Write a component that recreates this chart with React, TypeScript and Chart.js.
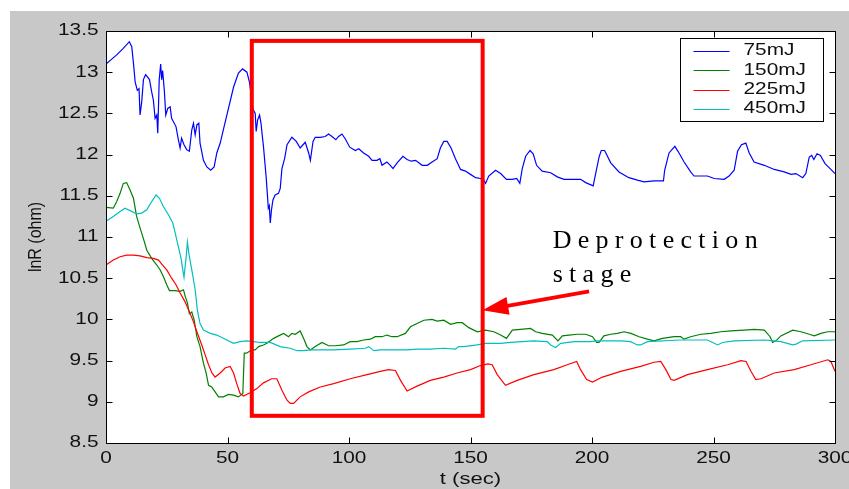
import React, { useEffect, useRef } from 'react';
import { Chart, registerables } from 'chart.js';
Chart.register(...registerables);

const seriesNames = ['75mJ', '150mJ', '225mJ', '450mJ'];
const seriesColors = ['rgb(0,0,255)', 'rgb(0,128,0)', 'rgb(255,0,0)', 'rgb(0,191,191)'];
const xTicks = [0, 50, 100, 150, 200, 250, 300];
const xTickLabels = ['0', '50', '100', '150', '200', '250', '300'];
const yTicks = [8.5, 9, 9.5, 10, 10.5, 11, 11.5, 12, 12.5, 13, 13.5];
const yTickLabels = ['8.5', '9', '9.5', '10', '10.5', '11', '11.5', '12', '12.5', '13', '13.5'];
const xTitle = 't (sec)';
const yTitle = 'lnR (ohm)';
const noteLine1 = 'Deprotection';
const noteLine2 = 'stage';
// annotation box in data units: [t0, t1, v0, v1]
const stageBox = [60, 155, 8.83, 13.38];
// arrow tail / tip in data units
const arrowTail = [198.8, 10.34];
const arrowTip = [154.9, 10.11];
const noteAnchor = [183.8, 10.87, 10.45];

const s75: [number, number][] = [[0,13.10],[2,13.15],[4.4,13.21],[7.1,13.29],[9.6,13.37],[10.6,13.31],[11.3,13.11],[12,12.88],[12.9,12.78],[13.6,12.80],[14,12.48],[14.7,12.64],[15.4,12.91],[16.3,12.97],[17.9,12.91],[18.8,12.76],[19.5,12.66],[20.2,12.44],[20.9,12.48],[21.3,12.26],[21.9,12.91],[22.5,13.10],[22.9,12.91],[23.3,13.02],[24,12.78],[24.6,12.48],[25.4,12.56],[26.4,12.58],[27,12.44],[28.8,12.34],[29.8,12.18],[30.5,12.08],[31.1,12.20],[32.1,12.12],[33.2,12.06],[34.3,12.04],[35.3,12.30],[36,12.38],[36.7,12.24],[37.4,12.36],[38.2,12.38],[38.7,12.14],[40.1,11.93],[41.5,11.85],[43.1,11.81],[44.5,11.85],[45.6,12.02],[47,12.14],[48.6,12.34],[50.4,12.56],[52.5,12.82],[54.5,12.99],[56.2,13.04],[58,13.0],[59.1,12.87],[60.5,12.55],[61.4,12.50],[61.8,12.28],[62.4,12.42],[63.2,12.48],[63.8,12.38],[64.2,12.26],[64.8,12.10],[65.9,11.73],[66.8,11.35],[67.2,11.38],[67.6,11.17],[68.1,11.33],[68.7,11.45],[69.6,11.51],[71,11.53],[71.7,11.59],[72.4,11.83],[73.5,11.95],[74.5,12.12],[76.5,12.21],[78.3,12.16],[79.9,12.08],[82,12.15],[83.4,12.02],[84.1,11.93],[85.2,12.16],[86.1,12.21],[88.2,12.21],[90.2,12.22],[91.6,12.25],[93,12.22],[94.6,12.18],[95.7,12.22],[97.1,12.25],[98.5,12.19],[100.3,12.09],[102.6,12.05],[104,12.07],[106,12.02],[108.1,11.98],[109.5,11.93],[111.5,11.93],[112.7,11.95],[113.6,11.87],[115.6,11.91],[117,11.87],[118.1,11.83],[119.8,11.90],[122.2,11.98],[123.9,11.94],[125.6,11.92],[127.4,11.93],[130.1,11.87],[132.2,11.87],[134.2,11.91],[136.3,11.95],[137.6,12.08],[139,12.16],[140.4,12.16],[142,12.08],[143.8,11.95],[145.9,11.82],[147.9,11.80],[150,11.76],[152.1,11.72],[154.1,11.71],[155.5,11.69],[156.2,11.65],[157.5,11.74],[160.3,11.81],[162.4,11.77],[164.8,11.70],[167.2,11.70],[169,11.71],[170.3,11.65],[171.3,11.83],[172.7,11.98],[174.5,12.05],[175.8,12.01],[177.2,11.87],[179.5,11.80],[183,11.78],[185.7,11.73],[188.5,11.70],[191.2,11.70],[195.3,11.70],[197.4,11.66],[200.5,11.62],[201.5,11.77],[202.9,11.97],[203.8,12.05],[205.2,12.05],[207.7,11.90],[211.1,11.79],[215.2,11.72],[218.7,11.69],[221.4,11.67],[225.5,11.68],[229.4,11.68],[229.9,11.81],[231.7,12.02],[234.1,12.10],[235.4,12.04],[237.9,11.91],[240.6,11.79],[242,11.74],[247.5,11.74],[250.3,11.71],[254.4,11.70],[256.4,11.74],[258.5,11.81],[259.9,12.04],[261.5,12.12],[263.3,12.14],[264.7,12.02],[266.7,11.91],[270.9,11.87],[275,11.82],[279.1,11.79],[281.9,11.76],[283.9,11.77],[286.7,11.72],[288,11.77],[289.4,11.97],[290.4,11.99],[291.3,11.94],[292.6,12.01],[294,11.99],[295.9,11.89],[298.3,11.82],[300,11.77]];

const s150: [number, number][] = [[0,11.36],[3,11.35],[4.4,11.43],[5.8,11.53],[7.1,11.65],[8.5,11.66],[9.9,11.57],[11.3,11.47],[12.6,11.25],[14,11.11],[15.4,10.98],[16.8,10.84],[18.8,10.74],[20.9,10.66],[22.3,10.60],[23.6,10.52],[25,10.42],[26.1,10.35],[28.4,10.35],[30.5,10.34],[31.9,10.36],[32.6,10.28],[33.5,10.20],[34.3,10.07],[35.3,10.09],[36.3,9.99],[37.4,9.79],[38.7,9.67],[40.1,9.47],[41.2,9.35],[42.2,9.20],[43.5,9.18],[44.9,9.12],[46.3,9.06],[48.3,9.06],[50.4,9.09],[52.5,9.08],[54.5,9.06],[56.3,9.10],[56.9,9.59],[57.8,9.59],[60,9.63],[61.4,9.63],[62.8,9.67],[64.8,9.69],[66.2,9.71],[69,9.77],[71,9.80],[73.1,9.83],[75.1,9.79],[76.5,9.83],[77.9,9.82],[79.9,9.86],[81.3,9.77],[82.7,9.67],[84.1,9.63],[86.1,9.67],[88.9,9.72],[91.6,9.68],[94.4,9.68],[97.8,9.69],[100.5,9.73],[103.3,9.73],[106,9.75],[108.8,9.76],[110.8,9.79],[113.6,9.79],[115.6,9.81],[117.7,9.79],[119.8,9.79],[123.2,9.83],[125.3,9.91],[128,9.95],[130.8,9.99],[134.2,10.0],[136.3,9.98],[139,9.99],[141.8,9.94],[144.5,9.96],[146.6,9.96],[149.3,9.90],[152.8,9.85],[156.2,9.87],[159.6,9.85],[162.4,9.81],[164.8,9.77],[167.2,9.87],[170.6,9.88],[174.7,9.89],[176.8,9.85],[179.5,9.83],[183.7,9.81],[186,9.74],[187.8,9.80],[190.5,9.81],[194,9.82],[197.4,9.82],[200.2,9.79],[201.9,9.72],[202.9,9.72],[204.9,9.80],[207.7,9.82],[210.4,9.83],[213.2,9.85],[216,9.83],[219.4,9.79],[222.8,9.76],[225.5,9.74],[229,9.77],[233.8,9.79],[236.5,9.79],[237.9,9.76],[240.6,9.79],[244.8,9.82],[248.9,9.83],[253,9.85],[257.1,9.86],[262.6,9.87],[266.7,9.88],[270.9,9.87],[273.3,9.79],[274.3,9.72],[275.7,9.74],[277.7,9.80],[282.6,9.87],[286,9.85],[289.4,9.82],[291.5,9.80],[294.2,9.83],[297,9.85],[300,9.85]];

const s225: [number, number][] = [[0,10.66],[3,10.72],[5.8,10.76],[8.5,10.78],[11.3,10.78],[14,10.77],[16.8,10.75],[19.5,10.74],[21.6,10.72],[23.3,10.66],[25,10.60],[27,10.50],[28.8,10.42],[30.5,10.32],[32.6,10.21],[34.6,10.07],[36,9.97],[37.4,9.85],[39.4,9.69],[40.8,9.57],[42.2,9.45],[43.6,9.35],[44.9,9.30],[47,9.35],[49,9.41],[51.1,9.43],[52.5,9.35],[53.8,9.22],[55.2,9.10],[56.6,9.07],[59.3,9.11],[62.1,9.16],[64.8,9.23],[68.2,9.28],[70.3,9.28],[72.4,9.14],[74.5,9.02],[75.8,8.98],[77.2,8.98],[79.9,9.06],[83.4,9.12],[88.2,9.18],[93.7,9.22],[100.5,9.28],[107.4,9.33],[112.9,9.37],[116.3,9.39],[119.1,9.38],[121.2,9.26],[123.9,9.13],[128,9.19],[133.5,9.26],[139,9.30],[144.5,9.35],[150,9.39],[154.1,9.44],[157.1,9.46],[158.9,9.45],[161,9.33],[164.4,9.20],[169.2,9.26],[176.1,9.33],[184.3,9.39],[189.8,9.45],[193.7,9.49],[195.3,9.39],[197.8,9.27],[200.2,9.24],[204.3,9.30],[211.8,9.37],[220,9.43],[225.5,9.48],[228.3,9.49],[230.4,9.39],[232.5,9.27],[233.8,9.26],[239.3,9.33],[247.5,9.39],[255.8,9.45],[261.3,9.50],[263.4,9.49],[265.4,9.37],[267.4,9.27],[269.5,9.28],[275,9.35],[283.2,9.39],[290.1,9.45],[297,9.51],[298.3,9.49],[300,9.37]];

const s450: [number, number][] = [[0,11.19],[3,11.25],[5.8,11.31],[7.8,11.35],[9.9,11.32],[12.6,11.28],[14.7,11.29],[16.8,11.33],[18.8,11.43],[20.6,11.51],[22,11.47],[23.6,11.37],[25.7,11.27],[27.5,11.17],[28.4,11.06],[29.8,10.88],[30.9,10.74],[31.6,10.60],[32.1,10.51],[33,10.76],[33.5,10.94],[34.1,10.80],[35.3,10.60],[36.7,10.36],[37.6,10.11],[38.7,9.95],[40.1,9.87],[42.9,9.83],[45.6,9.81],[49.7,9.75],[52.5,9.71],[55.2,9.73],[58,9.74],[60.7,9.73],[63.4,9.72],[67.6,9.72],[71.7,9.67],[75.8,9.65],[78.6,9.62],[81.3,9.62],[84.1,9.63],[86.8,9.63],[93.7,9.63],[100.5,9.64],[106.7,9.65],[108.1,9.67],[110.2,9.62],[112.9,9.63],[117,9.63],[123.9,9.63],[128,9.64],[133.5,9.64],[139,9.65],[143.8,9.64],[145.2,9.67],[147.2,9.67],[152.8,9.69],[156.2,9.71],[162.4,9.71],[166.5,9.72],[176.1,9.74],[181.6,9.73],[183,9.69],[185,9.66],[187.1,9.71],[192.6,9.73],[199.4,9.73],[202.2,9.74],[211.8,9.74],[215.9,9.73],[218.7,9.69],[220,9.69],[222.8,9.73],[236.5,9.75],[247.5,9.75],[250.3,9.71],[251.7,9.69],[253.7,9.72],[258.5,9.74],[270.9,9.75],[275,9.74],[277.7,9.73],[282.6,9.69],[284,9.70],[286.7,9.74],[300,9.75]];

const allSeries = [s75, s150, s225, s450];

export default function App() {
  const ref = useRef<HTMLCanvasElement>(null);

  useEffect(() => {
    const canvas = ref.current;
    if (!canvas) return;
    const SX = 1.3;
    const sansFont = '"Liberation Sans", Arial, sans-serif';
    const serifFont = '"Liberation Serif", "Times New Roman", serif';

    const drawText = (
      ctx: CanvasRenderingContext2D, s: string, x: number, y: number,
      align: CanvasTextAlign, font: string, color: string, sx = SX, ls = 0,
      baseline: CanvasTextBaseline = 'middle'
    ) => {
      ctx.save();
      ctx.translate(x, y);
      ctx.scale(sx, 1);
      ctx.font = font;
      ctx.fillStyle = color;
      ctx.textAlign = align;
      ctx.textBaseline = baseline;
      (ctx as any).letterSpacing = ls + 'px';
      ctx.fillText(s, 0, 0);
      ctx.restore();
    };

    const plugin = {
      id: 'matlabLook',
      beforeDraw(chart: any) {
        const ctx: CanvasRenderingContext2D = chart.ctx;
        const ca = chart.chartArea;
        ctx.save();
        ctx.fillStyle = '#ffffff';
        ctx.fillRect(0, 0, chart.width, chart.height);
        ctx.fillStyle = '#c8c8c8';
        ctx.fillRect(10, 11, chart.width - 10, chart.height - 11);
        ctx.fillStyle = '#ffffff';
        ctx.fillRect(ca.left, ca.top, ca.right - ca.left, ca.bottom - ca.top);
        ctx.restore();
      },
      afterDatasetsDraw(chart: any) {
        const ctx: CanvasRenderingContext2D = chart.ctx;
        const ca = chart.chartArea;
        const xs = chart.scales.x;
        const ys = chart.scales.y;
        ctx.save();

        // annotation rectangle
        const rx0 = xs.getPixelForValue(stageBox[0]);
        const rx1 = xs.getPixelForValue(stageBox[1]);
        const ry0 = ys.getPixelForValue(stageBox[3]);
        const ry1 = ys.getPixelForValue(stageBox[2]);
        ctx.strokeStyle = '#ff0000';
        ctx.lineWidth = 4;
        ctx.strokeRect(rx0, ry0, rx1 - rx0, ry1 - ry0);

        // arrow
        const tx = xs.getPixelForValue(arrowTail[0]);
        const ty = ys.getPixelForValue(arrowTail[1]);
        const hx = xs.getPixelForValue(arrowTip[0]);
        const hy = ys.getPixelForValue(arrowTip[1]);
        const dx = hx - tx, dy = hy - ty;
        const len = Math.hypot(dx, dy);
        const ux = dx / len, uy = dy / len;
        const headLen = 26, headHalf = 9;
        const bx = hx - ux * headLen, by = hy - uy * headLen;
        ctx.beginPath();
        ctx.moveTo(tx, ty);
        ctx.lineTo(bx + ux * 2, by + uy * 2);
        ctx.lineWidth = 4;
        ctx.stroke();
        ctx.beginPath();
        ctx.moveTo(hx, hy);
        ctx.lineTo(bx - uy * headHalf, by + ux * headHalf);
        ctx.lineTo(bx + uy * headHalf, by - ux * headHalf);
        ctx.closePath();
        ctx.fillStyle = '#ff0000';
        ctx.fill();

        // note text
        const nx = xs.getPixelForValue(noteAnchor[0]);
        drawText(ctx, noteLine1, nx, ys.getPixelForValue(noteAnchor[1]), 'left', `26px ${serifFont}`, '#000', 1, 6.3, 'alphabetic');
        drawText(ctx, noteLine2, nx, ys.getPixelForValue(noteAnchor[2]), 'left', `26px ${serifFont}`, '#000', 1, 6.3, 'alphabetic');

        // axes box
        ctx.strokeStyle = '#000';
        ctx.lineWidth = 1;
        const L = Math.round(ca.left) + 0.5, R = Math.round(ca.right) + 0.5;
        const T = Math.round(ca.top) + 0.5, B = Math.round(ca.bottom) + 0.5;
        ctx.beginPath();
        ctx.moveTo(L, T); ctx.lineTo(R, T); ctx.lineTo(R, B); ctx.lineTo(L, B); ctx.closePath();
        ctx.stroke();

        // ticks (inward) and labels
        const tl = 6;
        ctx.beginPath();
        xTicks.forEach((v) => {
          const px = Math.round(xs.getPixelForValue(v)) + 0.5;
          ctx.moveTo(px, B); ctx.lineTo(px, B - tl);
          ctx.moveTo(px, T); ctx.lineTo(px, T + tl);
        });
        yTicks.forEach((v) => {
          const py = Math.round(ys.getPixelForValue(v)) + 0.5;
          ctx.moveTo(L, py); ctx.lineTo(L + tl, py);
          ctx.moveTo(R, py); ctx.lineTo(R - tl, py);
        });
        ctx.stroke();

        const tickFont = `16px ${sansFont}`;
        xTicks.forEach((v, i) => {
          drawText(ctx, xTickLabels[i], xs.getPixelForValue(v), B + 15, 'center', tickFont, '#111');
        });
        yTicks.forEach((v, i) => {
          drawText(ctx, yTickLabels[i], L - 8, ys.getPixelForValue(v), 'right', tickFont, '#111');
        });

        // axis titles
        drawText(ctx, xTitle, (ca.left + ca.right) / 2, B + 36, 'center', `16px ${sansFont}`, '#111', 1.38);
        ctx.save();
        ctx.translate(36, (ca.top + ca.bottom) / 2);
        ctx.scale(1.2, 1);
        ctx.rotate(-Math.PI / 2);
        ctx.font = `16px ${sansFont}`;
        ctx.fillStyle = '#111';
        ctx.textAlign = 'center';
        ctx.textBaseline = 'middle';
        ctx.fillText(yTitle, 0, 0);
        ctx.restore();

        // legend
        const lx0 = Math.round(ca.right) - 155 + 0.5;
        const lx1 = Math.round(ca.right) - 12 + 0.5;
        const ly0 = Math.round(ca.top) + 7 + 0.5;
        const ly1 = ly0 + 83;
        ctx.fillStyle = '#fff';
        ctx.fillRect(lx0, ly0, lx1 - lx0, ly1 - ly0);
        ctx.strokeStyle = '#000';
        ctx.lineWidth = 1;
        ctx.strokeRect(lx0, ly0, lx1 - lx0, ly1 - ly0);
        seriesNames.forEach((name, i) => {
          const yy = ly0 + 12.5 + i * 19.3;
          ctx.beginPath();
          ctx.strokeStyle = seriesColors[i];
          ctx.moveTo(lx0 + 13, Math.round(yy) + 0.5);
          ctx.lineTo(lx0 + 49, Math.round(yy) + 0.5);
          ctx.stroke();
          drawText(ctx, name, lx0 + 63, yy, 'left', tickFont, '#111');
        });

        ctx.restore();
      },
    };

    const chart = new Chart(canvas, {
      type: 'line',
      data: {
        datasets: allSeries.map((s, i) => ({
          label: seriesNames[i],
          data: s.map(([x, y]) => ({ x, y })),
          borderColor: seriesColors[i],
          backgroundColor: seriesColors[i],
          borderWidth: 1.2,
          pointRadius: 0,
          tension: 0,
          fill: false,
          order: allSeries.length - i,
        })),
      },
      options: {
        responsive: false,
        animation: false,
        devicePixelRatio: 1,
        layout: { padding: { left: 106, top: 31, right: 14, bottom: 46 } },
        plugins: { legend: { display: false }, tooltip: { enabled: false } },
        scales: {
          x: { type: 'linear', min: 0, max: 300, display: false, ticks: { stepSize: 50 } },
          y: { type: 'linear', min: 8.5, max: 13.5, display: false, ticks: { stepSize: 0.5 } },
        },
      },
      plugins: [plugin],
    } as any);

    return () => chart.destroy();
  }, []);

  return (
    <div style={{ position: 'absolute', left: 0, top: 0, width: 849, height: 489 }}>
      <canvas ref={ref} width={849} height={489} style={{ display: 'block', width: 849, height: 489 }} />
    </div>
  );
}
